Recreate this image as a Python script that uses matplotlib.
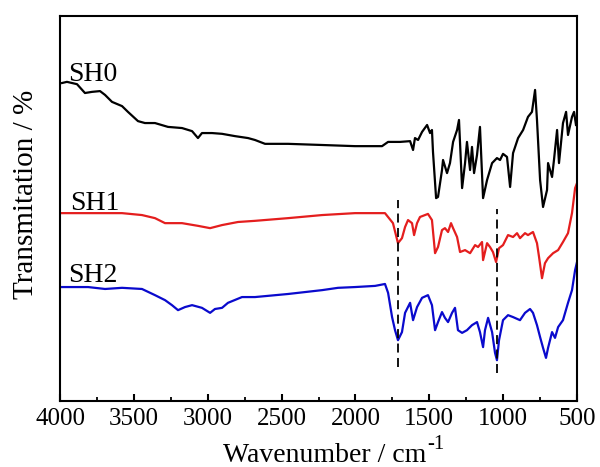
import matplotlib
matplotlib.use("Agg")
import matplotlib.pyplot as plt
from matplotlib.ticker import MultipleLocator

plt.rcParams['font.family'] = ['Liberation Serif', 'DejaVu Serif']

# SH0 spectrum (wavenumber, transmission in arbitrary units)
sh0_wn = [3986, 3953, 3885, 3831, 3783, 3729, 3695, 3648, 3580, 3540, 3472, 3425,
          3357, 3269, 3174, 3106, 3066, 3039, 2971, 2903, 2815, 2727, 2680, 2612,
          2456, 2226, 2003, 1820, 1779, 1698, 1630, 1610, 1597, 1576, 1549, 1515,
          1495, 1482, 1475, 1454, 1441, 1414, 1407, 1380, 1360, 1339, 1312, 1299,
          1278, 1258, 1245, 1224, 1211, 1197, 1177, 1157, 1136, 1109, 1075, 1042,
          1021, 1001, 974, 953, 933, 899, 865, 832, 805, 784, 771, 750, 730, 703,
          696, 669, 656, 635, 622, 595, 574, 561, 534, 520, 507]
sh0_t = [82.6, 82.9, 82.3, 80.0, 80.3, 80.5, 79.5, 77.7, 76.6, 75.1, 72.7, 72.2,
         72.2, 71.2, 70.9, 70.1, 68.3, 69.6, 69.6, 69.4, 68.8, 68.3, 67.8, 66.8,
         66.8, 66.5, 66.2, 66.2, 67.3, 67.3, 67.5, 65.2, 68.3, 67.8, 69.9, 71.7,
         69.6, 70.4, 64.7, 52.7, 53.0, 60.0, 62.6, 59.2, 61.8, 67.3, 70.4, 73.0,
         55.3, 61.8, 67.3, 60.0, 66.0, 59.2, 63.9, 71.2, 52.7, 57.4, 61.8, 63.1,
         62.6, 64.2, 63.4, 55.6, 64.4, 68.3, 70.4, 73.8, 75.1, 80.8, 73.0, 57.4,
         50.4, 54.8, 61.8, 58.2, 62.6, 70.4, 61.8, 72.2, 75.1, 69.1, 73.8, 75.1, 71.7]

# SH1 spectrum
sh1_wn = [3986, 3580, 3445, 3357, 3289, 3174, 3066, 2984, 2903, 2795, 2680, 2456,
          2226, 2003, 1834, 1800, 1746, 1712, 1685, 1664, 1644, 1617, 1603, 1583,
          1563, 1509, 1482, 1461, 1441, 1414, 1394, 1373, 1353, 1339, 1312, 1292,
          1258, 1224, 1190, 1170, 1143, 1136, 1109, 1089, 1069, 1048, 1028, 1001,
          967, 933, 906, 886, 852, 832, 798, 771, 757, 737, 717, 696, 662, 628,
          595, 561, 534, 513, 500]
sh1_t = [48.8, 48.8, 48.3, 47.5, 46.2, 46.2, 45.5, 44.9, 45.7, 46.5, 46.8, 47.5,
         48.3, 48.8, 48.8, 48.8, 46.2, 41.0, 42.3, 45.2, 47.0, 46.2, 43.1, 46.2,
         47.8, 48.6, 47.0, 38.4, 40.0, 44.4, 44.9, 43.9, 46.2, 44.9, 42.6, 38.7,
         39.2, 38.4, 40.5, 40.0, 41.3, 36.6, 41.0, 40.0, 38.7, 36.1, 39.7, 40.5,
         43.1, 42.6, 43.6, 42.3, 43.6, 43.1, 43.9, 41.0, 37.4, 31.9, 35.8, 37.1,
         38.4, 39.2, 41.3, 43.6, 48.8, 55.3, 56.6]

# SH2 spectrum
sh2_wn = [3986, 3810, 3695, 3580, 3445, 3357, 3289, 3242, 3201, 3154, 3106, 3039,
          2984, 2951, 2903, 2863, 2768, 2680, 2456, 2226, 2118, 2003, 1867, 1800,
          1779, 1752, 1732, 1712, 1685, 1664, 1630, 1610, 1583, 1549, 1509, 1482,
          1461, 1441, 1414, 1394, 1373, 1346, 1326, 1306, 1278, 1245, 1211, 1177,
          1157, 1136, 1123, 1102, 1075, 1055, 1042, 1028, 1001, 967, 933, 886, 852,
          818, 798, 771, 750, 730, 710, 696, 669, 649, 628, 595, 561, 534, 513, 500]
sh2_t = [29.6, 29.6, 29.1, 29.4, 29.1, 27.5, 26.2, 24.9, 23.6, 24.4, 24.9, 24.2,
         22.9, 23.9, 24.2, 25.5, 27.0, 27.0, 27.8, 28.8, 29.4, 29.6, 29.9, 30.4,
         28.1, 21.8, 18.4, 15.8, 17.9, 22.9, 25.5, 21.0, 24.4, 26.8, 27.5, 24.9,
         18.4, 20.5, 23.1, 21.6, 20.5, 22.9, 24.2, 18.4, 17.7, 18.4, 19.7, 20.5,
         17.9, 14.0, 18.4, 21.6, 17.9, 12.5, 10.6, 15.8, 21.0, 22.3, 21.8, 21.0, 22.9,
         23.9, 22.9, 19.7, 16.6, 13.8, 11.2, 13.8, 17.9, 16.4, 19.2, 21.0, 25.5, 28.8,
         34.0, 36.1]

# marked bands (dashed guides)
mark_wn = [1712, 1042]
mark_low = [8.8, 7.3]
mark_high = [52.2, 49.9]

names = ['SH0', 'SH1', 'SH2']
name_x = [3945, 3932, 3946]
name_y = [83.2, 49.6, 30.9]

fig = plt.figure(figsize=(6, 4.67), dpi=100)
ax = fig.add_axes([0.1, 0.1413, 0.8617, 0.8244])

ax.plot(sh0_wn, sh0_t, color='black', lw=1.6)
ax.plot(sh1_wn, sh1_t, color='#e41e1e', lw=1.6)
ax.plot(sh2_wn, sh2_t, color='#0a0acd', lw=1.6)
ax.vlines(mark_wn, mark_low, mark_high, colors='black', lw=1.3,
          linestyles=(0, (5, 3)))

for n, x, y in zip(names, name_x, name_y):
    ax.text(x, y, n, fontsize=20, ha='left', va='baseline')

ax.set_xlim(4000, 500)
ax.set_ylim(0, 100)
ax.xaxis.set_major_locator(MultipleLocator(500))
ax.xaxis.set_minor_locator(MultipleLocator(250))
ax.set_yticks([])
ax.tick_params(axis='x', which='major', direction='in', length=5, width=1.5,
               labelsize=18, pad=5)
ax.tick_params(axis='x', which='minor', direction='in', length=3, width=1.3)
for s in ax.spines.values():
    s.set_linewidth(1.5)

# x label with a raised "-1" after "cm"
xl = fig.text(325 / 600, 1 - 462 / 467, 'Wavenumber / cm',
              fontsize=20, ha='center', va='baseline')
ax.annotate('-1', xy=(1, 0), xycoords=xl, xytext=(0.5, 14),
            textcoords='offset points', fontsize=15, ha='left', va='baseline')
fig.text(26 / 600, 1 - 194 / 467, 'Transmitation / %', fontsize=21,
         rotation=90, ha='center', va='center')

fig.savefig('out.png', dpi=100)
